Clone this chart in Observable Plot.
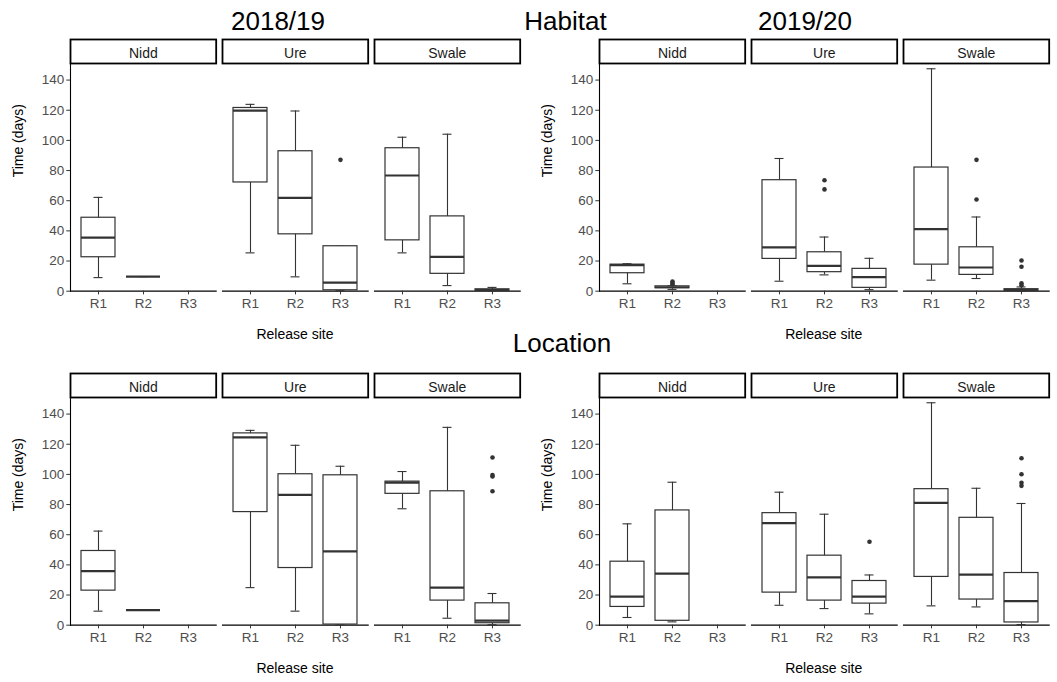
<!DOCTYPE html>
<html><head><meta charset="utf-8">
<script src="https://cdn.jsdelivr.net/npm/d3@7"></script>
<script src="https://cdn.jsdelivr.net/npm/@observablehq/plot@0.6"></script>
<style>
body{margin:0;background:#fff;}
#fig{position:relative;width:1057px;height:682px;font-family:"Liberation Sans",Arial,sans-serif;overflow:hidden;background:#fff;}
.t{position:absolute;white-space:nowrap;transform:translateX(-50%);color:#000;}
.big{font-size:26px;line-height:26px;}
.ax{font-size:14px;line-height:14px;}
.q{position:absolute;width:528px;height:345px;}
.q svg{position:absolute;top:0;overflow:visible;}
</style></head><body><div id="fig"></div><script>
const rivers = ["Nidd", "Ure", "Swale"];
const sites = ["R1", "R2", "R3"];
const yTicks = [0, 20, 40, 60, 80, 100, 120, 140];

// boxes: river, site, lower whisker, Q1, median, Q3, upper whisker
const habitat1819Boxes = [
  ["Nidd", "R1", 9.0, 22.5, 35.5, 48.7, 62.2],
  ["Nidd", "R2", 9.7, 9.7, 9.7, 9.7, 9.7],
  ["Ure", "R1", 25.4, 72.1, 119.7, 121.5, 123.9],
  ["Ure", "R2", 9.5, 37.7, 61.9, 92.8, 119.5],
  ["Ure", "R3", 0.3, 0.6, 5.7, 29.8, 29.8],
  ["Swale", "R1", 25.4, 33.7, 76.7, 94.8, 102.1],
  ["Swale", "R2", 3.7, 11.5, 22.7, 49.6, 104.1],
  ["Swale", "R3", 0.2, 0.4, 0.8, 1.2, 2.5]
];
const habitat1819Outliers = [["Ure", "R3", 87.1]];

const habitat1920Boxes = [
  ["Nidd", "R1", 4.9, 11.9, 17.3, 17.6, 18.2],
  ["Nidd", "R2", 1.2, 2.0, 2.6, 3.2, 3.6],
  ["Ure", "R1", 6.6, 21.4, 29.1, 73.6, 88.0],
  ["Ure", "R2", 10.8, 12.6, 16.8, 25.8, 35.9],
  ["Ure", "R3", 1.0, 2.2, 9.3, 14.8, 21.8],
  ["Swale", "R1", 7.3, 17.6, 41.2, 82.0, 147.5],
  ["Swale", "R2", 8.4, 10.8, 15.7, 29.1, 49.2],
  ["Swale", "R3", 0.1, 0.4, 0.8, 1.3, 2.8]
];
const habitat1920Outliers = [
  ["Nidd", "R2", 6.4], ["Nidd", "R2", 5.4], ["Nidd", "R2", 4.6],
  ["Ure", "R2", 73.6], ["Ure", "R2", 67.5],
  ["Swale", "R2", 87.1], ["Swale", "R2", 60.8],
  ["Swale", "R3", 20.3], ["Swale", "R3", 16.2], ["Swale", "R3", 5.3], ["Swale", "R3", 3.9]
];

const location1819Boxes = [
  ["Nidd", "R1", 9.3, 22.9, 35.9, 49.2, 62.4],
  ["Nidd", "R2", 10.0, 10.0, 10.0, 10.0, 10.0],
  ["Ure", "R1", 24.9, 75.0, 124.6, 127.2, 129.2],
  ["Ure", "R2", 9.3, 37.9, 86.4, 100.1, 119.3],
  ["Ure", "R3", 0.2, 0.4, 48.9, 99.4, 105.4],
  ["Swale", "R1", 77.2, 87.1, 94.6, 95.2, 101.9],
  ["Swale", "R2", 4.6, 16.3, 24.9, 88.8, 131.2],
  ["Swale", "R3", 0.3, 1.3, 3.0, 14.5, 21.0]
];
const location1819Outliers = [
  ["Swale", "R3", 111.2], ["Swale", "R3", 99.6], ["Swale", "R3", 98.6], ["Swale", "R3", 88.8]
];

const location1920Boxes = [
  ["Nidd", "R1", 5.1, 12.1, 19.0, 42.1, 67.2],
  ["Nidd", "R2", 2.2, 2.9, 34.2, 76.1, 94.8],
  ["Ure", "R1", 13.2, 21.6, 67.7, 74.3, 88.2],
  ["Ure", "R2", 11.0, 16.3, 31.7, 46.1, 73.6],
  ["Ure", "R3", 7.5, 14.3, 19.0, 29.3, 33.3],
  ["Swale", "R1", 12.8, 32.0, 81.1, 90.2, 147.5],
  ["Swale", "R2", 12.1, 17.0, 33.5, 71.2, 90.8],
  ["Swale", "R3", 0.4, 1.8, 15.9, 34.6, 80.7]
];
const location1920Outliers = [
  ["Ure", "R3", 55.3],
  ["Swale", "R3", 110.7], ["Swale", "R3", 100.1], ["Swale", "R3", 94.4], ["Swale", "R3", 92.4]
];

const FW = 145.7;      // facet panel width
const ML = 70;         // left margin of first facet
const FX = [0, 222.3, 374.3];

function facetPlot(boxes, outliers, river, first) {
  const b = boxes.filter(d => d[0] === river)
    .map(d => ({site: d[1], lo: d[2], q1: d[3], med: d[4], q3: d[5], hi: d[6]}));
  const o = outliers.filter(d => d[0] === river).map(d => ({site: d[1], value: d[2]}));
  const ml = first ? ML : 0;
  const stroke = "#333";
  return Plot.plot({
    width: ml + FW, height: 345,
    marginTop: 63, marginBottom: 54.3, marginLeft: ml, marginRight: 0,
    x: {domain: sites, paddingInner: 0.25, paddingOuter: 0.225},
    y: first ? {domain: [0, 151]} : {domain: [0, 151], axis: null},
    style: {fontFamily: '"Liberation Sans", Arial, sans-serif', fontSize: "13px",
            background: "transparent", overflow: "visible", color: "#4d4d4d"},
    marks: [
      Plot.frame({insetTop: -24, insetBottom: 227.7, stroke: "#000", strokeWidth: 1.8}),
      Plot.text([river], {frameAnchor: "top", lineAnchor: "middle", text: d => d, dy: -9.7, fontSize: 14, fill: "#1a1a1a"}),
      Plot.frame({anchor: "bottom", stroke: "#000", strokeWidth: 1.1}),
      first ? Plot.frame({anchor: "left", stroke: "#000", strokeWidth: 1.1}) : null,
      Plot.axisX({tickSize: 3.7, tickPadding: 3.5, label: null, stroke: stroke, fill: "#4d4d4d", fontSize: 13.5}),
      first ? Plot.axisY({ticks: yTicks, tickSize: 3.7, tickPadding: 2.5, label: null, stroke: stroke, fill: "#4d4d4d", fontSize: 13.5}) : null,
      first ? Plot.text(["Time (days)"], {frameAnchor: "left", rotate: -90, dx: -52, text: d => d, fontSize: 14, fill: "#000"}) : null,
      Plot.ruleX(b, {x: "site", y1: "lo", y2: "hi", stroke, strokeWidth: 1.1}),
      Plot.tickY(b, {x: "site", y: "lo", insetLeft: 12.5, insetRight: 12.5, stroke, strokeWidth: 1.1}),
      Plot.tickY(b, {x: "site", y: "hi", insetLeft: 12.5, insetRight: 12.5, stroke, strokeWidth: 1.1}),
      Plot.barY(b, {x: "site", y1: "q1", y2: "q3", fill: "white", stroke, strokeWidth: 1.2}),
      Plot.tickY(b, {x: "site", y: "med", stroke, strokeWidth: 2.2}),
      Plot.dot(o, {x: "site", y: "value", r: 2.3, fill: stroke, stroke: "none"})
    ]
  });
}

const fig = document.getElementById("fig");

function addText(parent, txt, cls, x, top) {
  const d = document.createElement("div");
  d.className = "t " + cls;
  d.textContent = txt;
  d.style.left = x + "px";
  d.style.top = top + "px";
  parent.appendChild(d);
}

function quadrant(left, top, boxes, outliers) {
  const q = document.createElement("div");
  q.className = "q";
  q.style.left = left + "px";
  q.style.top = top + "px";
  rivers.forEach((r, i) => {
    const svg = facetPlot(boxes, outliers, r, i === 0);
    svg.style.left = FX[i] + "px";
    q.appendChild(svg);
  });
  addText(q, "Release site", "ax", ML + (FX[2] + FW - ML) / 2, 326.5);
  fig.appendChild(q);
}

quadrant(0, 0, habitat1819Boxes, habitat1819Outliers);
quadrant(528.7, 0, habitat1920Boxes, habitat1920Outliers);
quadrant(0, 334, location1819Boxes, location1819Outliers);
quadrant(528.7, 334, location1920Boxes, location1920Outliers);

addText(fig, "2018/19", "big", 278, 7.5);
addText(fig, "Habitat", "big", 565.5, 8);
addText(fig, "2019/20", "big", 805, 7.5);
addText(fig, "Location", "big", 562, 330);
</script></body></html>
